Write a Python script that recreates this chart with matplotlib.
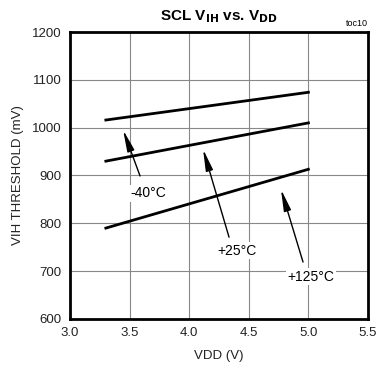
import matplotlib
matplotlib.use("Agg")
import matplotlib.pyplot as plt

plt.rcParams['font.family'] = ['Liberation Sans', 'DejaVu Sans']

# data
vdd = [3.3, 5.0]
vih_m40 = [1016, 1074]
vih_25 = [930, 1010]
vih_125 = [790, 913]

labels = ["-40°C", "+25°C", "+125°C"]
arrow_tips = [(3.445, 995), (4.116, 955), (4.77, 871)]
arrow_tails = [(3.587, 899), (4.334, 771), (4.955, 719)]
text_pos = [(3.66, 863), (4.40, 743), (5.02, 688)]

fig = plt.figure(figsize=(3.77, 3.77), dpi=100)
ax = fig.add_axes([0.186, 0.154, 0.79, 0.761])

for y in (vih_m40, vih_25, vih_125):
    ax.plot(vdd, y, color='black', lw=2)

for lab, tip, tail, tp in zip(labels, arrow_tips, arrow_tails, text_pos):
    ax.annotate('', xy=tip, xytext=tail,
                arrowprops=dict(arrowstyle='-|>,head_length=1.3,head_width=0.22',
                                color='black', lw=1.0,
                                mutation_scale=10, shrinkA=0, shrinkB=0))
    ax.text(tp[0], tp[1], lab, ha='center', va='center', fontsize=10,
            bbox=dict(facecolor='white', edgecolor='none', pad=1))

ax.set_xlim(3.0, 5.5)
ax.set_ylim(600, 1200)
ax.set_xticks([3.0, 3.5, 4.0, 4.5, 5.0, 5.5])
ax.set_xticklabels(['3.0', '3.5', '4.0', '4.5', '5.0', '5.5'])
ax.set_yticks([600, 700, 800, 900, 1000, 1100, 1200])
ax.grid(True, color='#888888', lw=0.8)
ax.set_axisbelow(True)
for s in ax.spines.values():
    s.set_linewidth(2)
ax.tick_params(length=0, labelsize=9.5, pad=6, labelcolor='#222222')
ax.set_xlabel('VDD (V)', fontsize=9.5, labelpad=8, color='#222222')
ax.set_ylabel('VIH THRESHOLD (mV)', fontsize=9.5, labelpad=6, color='#222222')

fig.text(0.58, 0.955, r'SCL V$_{\mathbf{IH}}$ vs. V$_{\mathbf{DD}}$', ha='center',
         va='center', fontsize=11, fontweight='bold')
fig.text(0.975, 0.925, 'toc10', ha='right', va='bottom', fontsize=6.5)

fig.savefig('out.png', dpi=100)
